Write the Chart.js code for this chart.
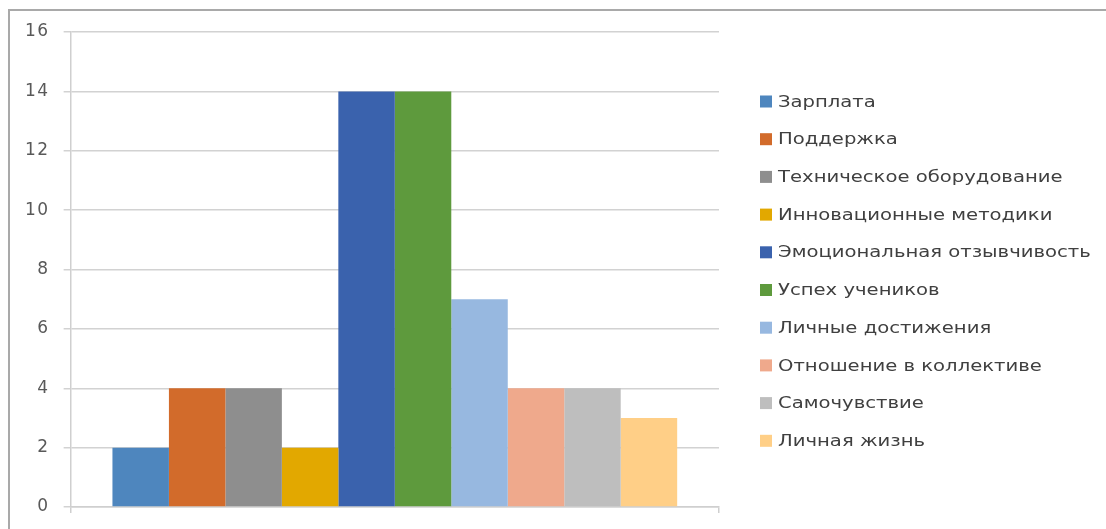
<!DOCTYPE html>
<html>
<head>
<meta charset="utf-8">
<script src="https://cdn.jsdelivr.net/npm/chart.js@4.4.1/dist/chart.umd.min.js"></script>
<style>
html,body{margin:0;padding:0;background:#fff;}
#wrap{position:relative;width:1106px;height:529px;overflow:hidden;}
#frame{position:absolute;left:8px;top:9px;width:1200px;height:600px;border-left:2px solid #a9a9a9;border-top:2px solid #a9a9a9;pointer-events:none;}
canvas{position:absolute;left:0;top:0;}
</style>
</head>
<body>
<div id="wrap">
<div id="frame"></div>
<canvas id="c" width="1106" height="529"></canvas>
</div>
<script>
const categories = [""];
const seriesNames = ["Зарплата","Поддержка","Техническое оборудование","Инновационные методики","Эмоциональная отзывчивость","Успех учеников","Личные достижения","Отношение в коллективе","Самочувствие","Личная жизнь"];
const seriesValues = [2,4,4,2,14,14,7,4,4,3];
const seriesColors = ["#4E86BE","#D26B2B","#8E8E8E","#E2A800","#3A62AD","#5E9A3D","#97B8E0","#EFA98C","#BEBEBE","#FFCF87"];
const yTicks = [0,2,4,6,8,10,12,14,16];

const datasets = seriesNames.map((n,i)=>({
  label:n,
  data:[seriesValues[i]],
  backgroundColor:seriesColors[i],
  borderWidth:0,
  categoryPercentage:0.871,
  barPercentage:1.0
}));

const spacing = {
  id:'spacing',
  beforeLayout(chart){ chart.ctx.letterSpacing='1.5px'; },
  beforeDraw(chart){ chart.ctx.letterSpacing='1.5px'; }
};

const sideLegend = {
  id:'sideLegend',
  afterDraw(chart){
    const ctx = chart.ctx;
    ctx.save();
    ctx.letterSpacing='0px';
    ctx.font = '16px "DejaVu Sans"';
    ctx.textBaseline = 'middle';
    ctx.textAlign = 'left';
    const x0 = 760, y0 = 101.5, step = 37.7, box = 12, sx = 1.225;
    chart.data.datasets.forEach((ds,i)=>{
      const y = y0 + i*step;
      ctx.fillStyle = ds.backgroundColor;
      ctx.fillRect(x0, y - box/2, box, box);
      ctx.save();
      ctx.translate(x0 + 18, y + 1);
      ctx.scale(sx, 1);
      ctx.fillStyle = '#404040';
      ctx.fillText(ds.label, 0, 0);
      ctx.restore();
    });
    ctx.restore();
  }
};

new Chart(document.getElementById('c'),{
  type:'bar',
  data:{labels:categories,datasets},
  plugins:[spacing, sideLegend],
  options:{
    responsive:false,
    animation:false,
    devicePixelRatio:1,
    layout:{padding:{left:11,top:32,bottom:10,right:387}},
    plugins:{
      tooltip:{enabled:false},
      legend:{display:false}
    },
    scales:{
      x:{
        ticks:{display:false},
        grid:{drawOnChartArea:false,drawTicks:true,tickLength:6,color:'#cfcfcf',lineWidth:1.5,offset:true},
        border:{color:'#cfcfcf',width:1.5}
      },
      y:{
        min:0,max:16,
        afterBuildTicks:(s)=>{s.ticks=yTicks.map(v=>({value:v}));},
        ticks:{color:'#595959',padding:14,font:{family:'DejaVu Sans',size:17,lineHeight:0.94}},
        grid:{color:'#d2d2d2',lineWidth:1.5,tickLength:7},
        border:{color:'#cfcfcf',width:1.5}
      }
    }
  }
});
</script>
</body>
</html>
